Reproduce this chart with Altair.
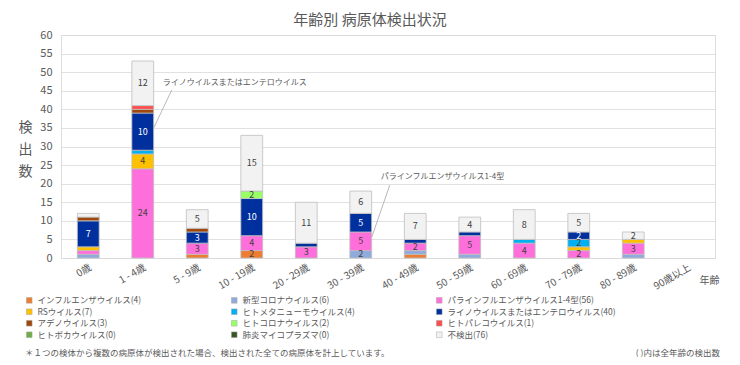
import altair as alt
import pandas as pd

ages = ["0歳", "1 - 4歳", "5 - 9歳", "10 - 19歳", "20 - 29歳", "30 - 39歳",
        "40 - 49歳", "50 - 59歳", "60 - 69歳", "70 - 79歳", "80 - 89歳", "90歳以上"]

series = ["インフルエンザウイルス", "新型コロナウイルス", "パラインフルエンザウイルス1-4型",
          "RSウイルス", "ヒトメタニューモウイルス", "ライノウイルスまたはエンテロウイルス",
          "アデノウイルス", "ヒトコロナウイルス", "ヒトパレコウイルス",
          "ヒトボカウイルス", "肺炎マイコプラズマ", "不検出"]

colors = ["#ED7D31", "#8FAADC", "#FF6FDC", "#FFC000", "#00B0F0", "#002F9E",
          "#9E480E", "#99FF66", "#FF4B4B", "#70AD47", "#375623", "#F2F2F2"]

influenza = [0, 0, 1, 2, 0, 0, 1, 0, 0, 0, 0, 0]
covid     = [1, 0, 0, 0, 0, 2, 1, 1, 0, 0, 1, 0]
para      = [1, 24, 3, 4, 3, 5, 2, 5, 4, 2, 3, 0]
rsv       = [1, 4, 0, 0, 0, 0, 0, 0, 0, 1, 1, 0]
hmpv      = [0, 1, 0, 0, 0, 0, 0, 0, 1, 2, 0, 0]
rhino     = [7, 10, 3, 10, 1, 5, 1, 1, 0, 2, 0, 0]
adeno     = [1, 1, 1, 0, 0, 0, 0, 0, 0, 0, 0, 0]
hcov      = [0, 0, 0, 2, 0, 0, 0, 0, 0, 0, 0, 0]
parecho   = [0, 1, 0, 0, 0, 0, 0, 0, 0, 0, 0, 0]
boca      = [0, 0, 0, 0, 0, 0, 0, 0, 0, 0, 0, 0]
myco      = [0, 0, 0, 0, 0, 0, 0, 0, 0, 0, 0, 0]
notdet    = [1, 12, 5, 15, 11, 6, 7, 4, 8, 5, 2, 0]

values = [influenza, covid, para, rsv, hmpv, rhino, adeno, hcov, parecho, boca, myco, notdet]

# annotations
ann_age = ["1 - 4歳", "30 - 39歳"]
ann_text = ["ライノウイルスまたはエンテロウイルス", "パラインフルエンザウイルス1-4型"]
ann_from = [35, 5.6]
ann_to = [45.2, 19.6]
ann_text_y = [46.6, 21.2]

note_left = "＊１つの検体から複数の病原体が検出された場合、検出された全ての病原体を計上しています。"
note_right = "( )内は全年齢の検出数"

labels_named = [f"{n}({sum(v)})" for n, v in zip(series, values)]
rows = []
for si, vals in enumerate(values):
    for ai, v in enumerate(vals):
        if v > 0:
            rows.append({"age": ages[ai], "series": labels_named[si], "value": v, "order": si})
df = pd.DataFrame(rows)

FONT = "Noto Sans CJK JP"
GRAY = "#595959"

xscale = alt.Scale(domain=ages, paddingInner=0.6, paddingOuter=0.3)
yscale = alt.Scale(domain=[0, 60])
xaxis = alt.Axis(title="年齢", labelAngle=-30, labelAlign="right", labelBaseline="top",
                 labelFontSize=10, labelColor=GRAY, ticks=False, domain=False,
                 labelPadding=4, titleAngle=0, titleX=648, titleY=22,
                 titleAlign="center", titleBaseline="middle", titleFontSize=10,
                 titleFontWeight="normal", titleColor=GRAY)
yaxis = alt.Axis(values=list(range(0, 61, 5)), title=["検", "出", "数"], titleAngle=0,
                 titleX=-36, titleY=85, titleAlign="center", titleBaseline="top",
                 titleLineHeight=22, titleFontSize=14, titleFontWeight="normal",
                 titleColor=GRAY, labelFontSize=11, labelColor=GRAY, ticks=False,
                 tickSize=0, domain=False, labelPadding=9, gridColor="#D9D9D9",
                 gridWidth=0.8, labelOverlap=False)

bars = alt.Chart(df).mark_bar(stroke="#BFBFBF", strokeWidth=0.8).encode(
    x=alt.X("age:N", scale=xscale, sort=ages, axis=xaxis),
    y=alt.Y("value:Q", stack="zero", scale=yscale, axis=yaxis),
    color=alt.Color("series:N",
                    scale=alt.Scale(domain=labels_named, range=colors),
                    legend=alt.Legend(orient="none", legendX=-36, legendY=261, columns=3,
                                      direction="horizontal",
                                      gridAlign="all", columnPadding=24, rowPadding=2.5,
                                      symbolType="square", symbolSize=32,
                                      symbolStrokeColor="#A6A6A6", symbolStrokeWidth=0.5,
                                      labelFontSize=8.5, labelColor=GRAY, labelLimit=400,
                                      labelFont=FONT, labelOffset=4, title=None)),
    order=alt.Order("order:Q"),
)

seg_labels = alt.Chart(df).transform_stack(
    stack="value", groupby=["age"], as_=["y0", "y1"],
    sort=[alt.SortField("order", "ascending")]
).transform_calculate(
    mid="(datum.y0 + datum.y1) / 2"
).transform_filter("datum.value >= 2").mark_text(fontSize=9, font=FONT).encode(
    x=alt.X("age:N", scale=xscale, sort=ages, axis=xaxis),
    y=alt.Y("mid:Q", scale=yscale, axis=yaxis),
    text="value:Q",
    color=alt.condition(alt.datum.order == 5, alt.value("white"), alt.value("#404040")),
)

ann_df = pd.DataFrame({"age": ann_age, "text": ann_text, "y_from": ann_from,
                       "y_to": ann_to, "ty": ann_text_y})

leader = alt.Chart(ann_df).mark_rule(color="#A6A6A6", strokeWidth=0.8, xOffset=11, x2Offset=29).encode(
    x=alt.X("age:N", scale=xscale, sort=ages, axis=xaxis),
    x2="age:N",
    y=alt.Y("y_from:Q", scale=yscale, axis=yaxis),
    y2="y_to:Q",
)

ann = alt.Chart(ann_df).mark_text(align="left", dx=20, fontSize=8, color=GRAY, font=FONT,
                                  baseline="alphabetic").encode(
    x=alt.X("age:N", scale=xscale, sort=ages, axis=xaxis),
    y=alt.Y("ty:Q", scale=yscale, axis=yaxis),
    text="text:N",
)

notes_l = alt.Chart(pd.DataFrame({"t": [note_left]})).mark_text(
    align="left", fontSize=8.5, color=GRAY, font=FONT, baseline="middle").encode(
    x=alt.value(-36), y=alt.value(318), text="t:N")
notes_r = alt.Chart(pd.DataFrame({"t": [note_right]})).mark_text(
    align="right", fontSize=8.5, color=GRAY, font=FONT, baseline="middle").encode(
    x=alt.value(659), y=alt.value(318), text="t:N")

chart = alt.layer(bars, seg_labels, leader, ann, notes_l, notes_r).properties(
    width=654, height=223,
    padding={"left": 53, "top": 27, "right": 17, "bottom": 99},
    autosize=alt.AutoSizeParams(type="none"),
    title=alt.TitleParams("年齢別 病原体検出状況", fontSize=15, color=GRAY,
                          fontWeight="normal", anchor="middle", dx=-18, offset=1,
                          font=FONT),
).configure_view(stroke=None).configure(font=FONT)

chart.save("out.html", embed_options={"renderer": "svg", "actions": False})
